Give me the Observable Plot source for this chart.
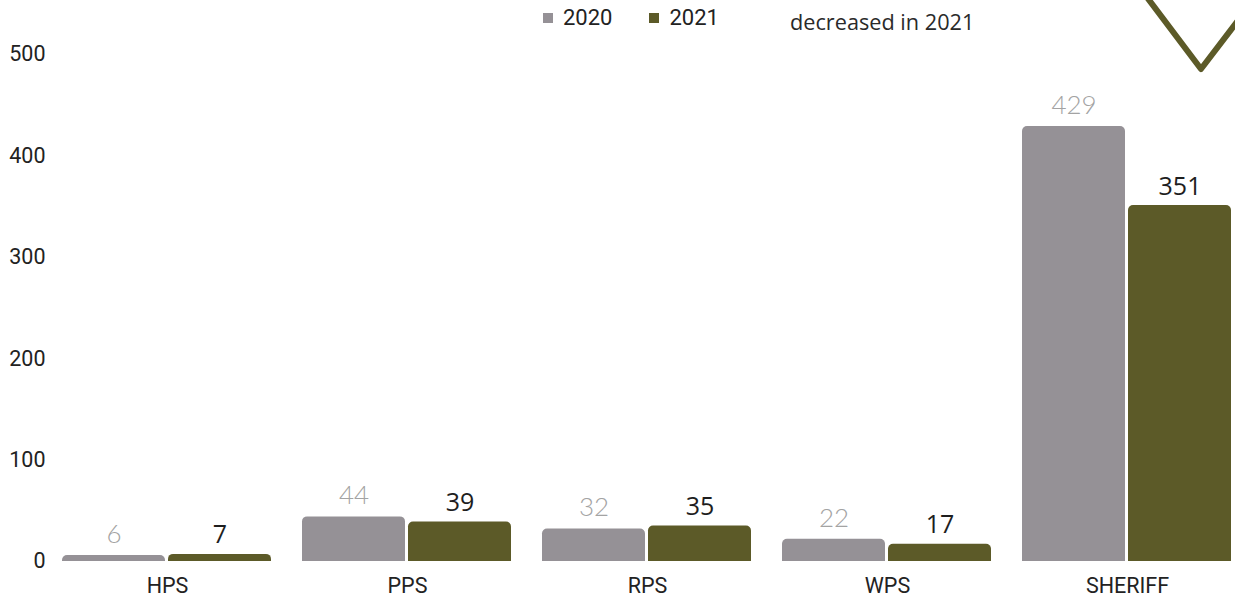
<!DOCTYPE html>
<html>
<head>
<meta charset="utf-8">
<script src="https://cdn.jsdelivr.net/npm/d3@7"></script>
<script src="https://cdn.jsdelivr.net/npm/@observablehq/plot@0.6"></script>
<style>
  html, body { margin: 0; padding: 0; background: #fff; }
  #wrap { position: relative; width: 1235px; height: 598px; overflow: hidden; }
  #chart { position: absolute; left: 0; top: 0; }
  .legend { position: absolute; top: 5px; left: 543px; font-family: Roboto, sans-serif; font-size: 22px; color: #222; display: flex; gap: 37px; }
  .legend span.item { display: flex; align-items: center; }
  .legend span.sw { display: inline-block; width: 10px; height: 10px; margin-right: 10px; }
  .note { position: absolute; top: 7px; left: 790px; font-family: "Open Sans", sans-serif; font-size: 21.7px; color: #2a2a2a; white-space: nowrap; }
  .chev { position: absolute; left: 0; top: 0; }
</style>
</head>
<body>
<div id="wrap">
  <div id="chart"></div>
  <div class="legend" id="legend"></div>
  <div class="note">decreased in 2021</div>
  <svg class="chev" width="1235" height="598"><polyline points="1146,-4 1201,69 1240,18" fill="none" stroke="#5c5a28" stroke-width="6" stroke-linejoin="round" stroke-linecap="round"/></svg>
</div>
<script>
const categories = ["HPS", "PPS", "RPS", "WPS", "SHERIFF"];
const years = ["2020", "2021"];
const values2020 = [6, 44, 32, 22, 429];
const values2021 = [7, 39, 35, 17, 351];
const yTicks = [0, 100, 200, 300, 400, 500];
const colors = ["#959196", "#5c5a28"];

const data = [];
categories.forEach((c, i) => {
  data.push({category: c, year: years[0], value: values2020[i]});
  data.push({category: c, year: years[1], value: values2021[i]});
});

const chart = Plot.plot({
  width: 1235,
  height: 598,
  marginTop: 54,
  marginBottom: 37,
  marginLeft: 47,
  marginRight: 0,
  style: {fontFamily: "Roboto, sans-serif", fontSize: "21.5px", background: "transparent"},
  fx: {domain: categories, range: [47, 1247], padding: 0, label: null},
  x: {domain: years, paddingInner: 0.028, paddingOuter: 0.136, axis: null},
  y: {domain: [0, 500], label: null},
  color: {domain: years, range: colors},
  marks: [
    Plot.axisY({ticks: yTicks, tickSize: 0, tickPadding: 2, fontSize: 21.5, fill: "#222", label: null}),
    Plot.axisFx({anchor: "bottom", tickSize: 0, tickPadding: 16, fontSize: 21.5, fill: "#222", label: null}),
    Plot.barY(data, {fx: "category", x: "year", y: "value", fill: "year", ry1: 5}),
    Plot.text(data.filter(d => d.year === years[0]), {fx: "category", x: "year", y: "value", text: d => String(d.value), dy: -21, lineAnchor: "middle", fill: "#a3a3a3", fontSize: 26, fontFamily: "Lato, sans-serif", fontWeight: 300}),
    Plot.text(data.filter(d => d.year === years[1]), {fx: "category", x: "year", y: "value", text: d => String(d.value), dy: -19, lineAnchor: "middle", fill: "#1e1e1e", fontSize: 25, fontFamily: "'Open Sans', sans-serif"})
  ]
});
document.getElementById("chart").appendChild(chart);

const legend = document.getElementById("legend");
years.forEach((y, i) => {
  const item = document.createElement("span");
  item.className = "item";
  const sw = document.createElement("span");
  sw.className = "sw";
  sw.style.background = colors[i];
  item.appendChild(sw);
  item.appendChild(document.createTextNode(y));
  legend.appendChild(item);
});
</script>
</body>
</html>
